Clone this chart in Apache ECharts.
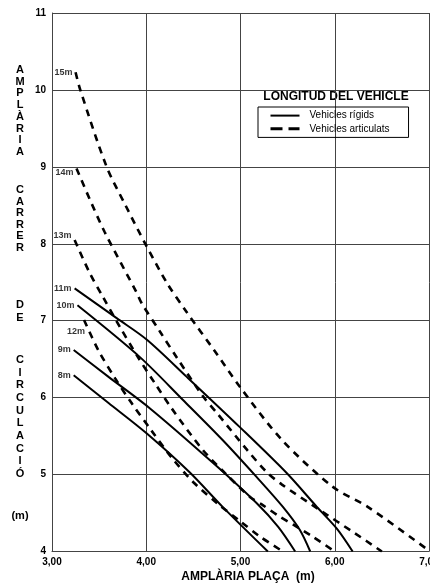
<!DOCTYPE html>
<html>
<head>
<meta charset="utf-8">
<script src="https://cdn.jsdelivr.net/npm/echarts@6/dist/echarts.min.js"></script>
<style>
html,body{margin:0;padding:0;background:#fff;}
#chart{width:430px;height:587px;}
</style>
</head>
<body>
<div id="chart"></div>
<script>
// ---- Data ----
const xTicks = [3, 4, 5, 6, 7];
const yTicks = [4, 5, 6, 7, 8, 9, 10, 11];

const rigidNames = ['8m', '9m', '10m', '11m'];
const rigid8m  = [[3.23,6.29],[3.60,5.93],[4.00,5.54],[4.46,5.03],[4.81,4.58],[5.29,4.00]];
const rigid9m  = [[3.23,6.62],[3.60,6.27],[4.04,5.86],[4.71,5.15],[5.17,4.63],[5.40,4.32],[5.58,4.00]];
const rigid10m = [[3.27,7.20],[3.93,6.53],[4.39,5.97],[4.81,5.45],[5.17,4.97],[5.45,4.58],[5.63,4.28],[5.74,4.00]];
const rigid11m = [[3.24,7.42],[3.69,7.03],[4.01,6.75],[4.43,6.27],[4.99,5.62],[5.49,5.02],[5.81,4.58],[6.02,4.30],[6.19,4.00]];

const articNames = ['12m', '13m', '14m', '15m'];
const artic12m = [[3.34,7.01],[3.49,6.62],[3.67,6.25],[3.85,5.92],[4.05,5.58],[4.27,5.22],[4.50,4.90],[4.76,4.62],[5.00,4.39],[5.20,4.20],[5.45,4.00]];
const artic13m = [[3.24,8.05],[3.40,7.62],[3.54,7.31],[3.72,6.92],[3.91,6.53],[4.09,6.19],[4.27,5.86],[4.60,5.32],[4.86,4.99],[5.10,4.71],[5.24,4.60],[5.42,4.45],[5.56,4.35],[5.77,4.19],[6.00,4.00]];
const artic14m = [[3.26,8.98],[3.40,8.58],[3.56,8.15],[3.90,7.36],[3.95,7.23],[4.15,6.85],[4.33,6.51],[4.60,6.02],[4.75,5.80],[5.07,5.32],[5.28,5.03],[5.44,4.87],[5.84,4.54],[6.21,4.24],[6.50,4.00]];
const artic15m = [[3.25,10.23],[3.30,10.00],[3.58,9.00],[3.78,8.50],[3.99,8.00],[4.22,7.49],[4.43,7.11],[4.73,6.60],[5.00,6.13],[5.44,5.45],[5.98,4.84],[6.35,4.58],[6.99,4.02]];

const legendRigid = 'Vehicles rígids';
const legendArtic = 'Vehicles articulats';
const legendTitle = 'LONGITUD DEL VEHICLE';
const xTitle = 'AMPLÀRIA PLAÇA  (m)';
const yTitleGroups = [
  { letters: 'AMPLÀRIA', first: 70, step: 11.7 },
  { letters: 'CARRER', first: 190, step: 11.6 },
  { letters: 'DE', first: 305, step: 13 },
  { letters: 'CIRCULACIÓ', first: 360, step: 12.67 },
  { letters: '(m)', first: 516, step: 0, whole: true }
];

// ---- Build ----
const FONT = '"Liberation Sans", Arial, sans-serif';
const rigidData = [rigid8m, rigid9m, rigid10m, rigid11m];
const articData = [artic12m, artic13m, artic14m, artic15m];
const hidden = 'rgba(0,0,0,0)';
// small pixel nudges for the curve name labels
const labelNudge = { '12m': [4, 12], '13m': [0, -4], '14m': [0, 4] };

const series = [];
rigidData.forEach(function (d) {
  series.push({
    type: 'line', name: legendRigid, data: d, smooth: 0.3, symbol: 'none',
    itemStyle: { color: '#000' },
    lineStyle: { color: '#000', width: 2, type: 'solid' }, silent: true, animation: false
  });
});
articData.forEach(function (d) {
  series.push({
    type: 'line', name: legendArtic, data: d, smooth: 0.3, symbol: 'none',
    itemStyle: { color: '#000' },
    lineStyle: { color: '#000', width: 2.6, type: [7, 6] }, silent: true, animation: false
  });
});
const labelPts = [];
function addLabel(d, name) {
  const item = { value: [d[0][0], d[0][1], name] };
  if (labelNudge[name]) item.label = { offset: labelNudge[name] };
  labelPts.push(item);
}
rigidData.forEach(function (d, i) { addLabel(d, rigidNames[i]); });
articData.forEach(function (d, i) { addLabel(d, articNames[i]); });
series.push({
  type: 'scatter', name: 'labels', data: labelPts, symbolSize: 0, silent: true, animation: false,
  itemStyle: { color: hidden },
  label: {
    show: true, position: 'left', distance: 3,
    formatter: function (p) { return p.value[2]; },
    color: '#000', fontSize: 9, fontWeight: 'bold', fontFamily: FONT
  }
});

const graphics = [];
yTitleGroups.forEach(function (g) {
  if (g.whole) {
    graphics.push({ type: 'text', x: 20, y: g.first, style: { text: g.letters, fill: '#000', font: 'bold 11px ' + FONT, align: 'center', verticalAlign: 'middle' } });
  } else {
    g.letters.split('').forEach(function (ch, i) {
      graphics.push({ type: 'text', x: 20, y: g.first + i * g.step, style: { text: ch, fill: '#000', font: 'bold 11px ' + FONT, align: 'center', verticalAlign: 'middle' } });
    });
  }
});
graphics.push({ type: 'text', x: 248, y: 577, style: { text: xTitle, fill: '#000', font: 'bold 12px ' + FONT, align: 'center', verticalAlign: 'middle' } });
graphics.push({ type: 'text', x: 336, y: 97, style: { text: legendTitle, fill: '#000', font: 'bold 12px ' + FONT, align: 'center', verticalAlign: 'middle' } });

const chart = echarts.init(document.getElementById('chart'), null, { renderer: 'canvas' });
chart.setOption({
  backgroundColor: '#fff',
  animation: false,
  grid: { left: 52, right: 1, top: 13, bottom: 35.5, containLabel: false, outerBoundsMode: 'none' },
  xAxis: {
    type: 'value', min: xTicks[0], max: xTicks[xTicks.length - 1], interval: 1,
    axisLine: { show: true, lineStyle: { color: '#444', width: 1 } },
    axisTick: { show: false },
    splitLine: { show: true, lineStyle: { color: '#444', width: 1 } },
    axisLabel: { color: '#000', fontSize: 10, fontWeight: 'bold', fontFamily: FONT, margin: 6,
      formatter: function (v) { return v.toFixed(2).replace('.', ','); } }
  },
  yAxis: {
    type: 'value', min: yTicks[0], max: yTicks[yTicks.length - 1], interval: 1,
    axisLine: { show: true, lineStyle: { color: '#444', width: 1 } },
    axisTick: { show: false },
    splitLine: { show: true, lineStyle: { color: '#444', width: 1 } },
    axisLabel: { color: '#000', fontSize: 10, fontWeight: 'bold', fontFamily: FONT, margin: 6 }
  },
  legend: {
    data: [
      { name: legendRigid, lineStyle: { width: 2, type: 'solid', color: '#000' } },
      { name: legendArtic, lineStyle: { width: 3, type: [12, 6], color: '#000' } }
    ],
    orient: 'vertical', left: 258, top: 107,
    itemWidth: 29, itemHeight: 14, itemGap: 2,
    padding: [3, 19, 3, 11],
    borderColor: '#000', borderWidth: 1,
    selectedMode: false,
    itemStyle: { color: hidden, borderColor: hidden, borderWidth: 0, opacity: 0 },
    textStyle: { color: '#000', fontSize: 10, fontFamily: FONT, padding: [0, 0, 0, 5] }
  },
  graphic: graphics,
  series: series
});
</script>
</body>
</html>
